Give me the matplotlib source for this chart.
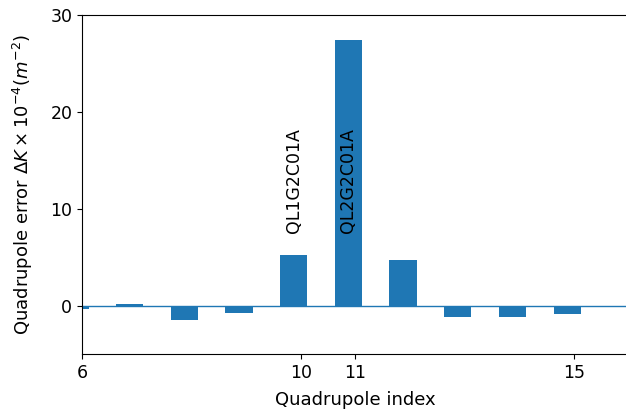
import matplotlib
matplotlib.use("Agg")
import matplotlib.pyplot as plt

# Data
quad_index = [6, 7, 8, 9, 10, 11, 12, 13, 14, 15]
error_vals = [-0.4, 0.2, -1.5, -0.75, 5.2, 27.4, 4.7, -1.2, -1.2, -0.87]
label_index = [10, 11]
label_names = ["QL1G2C01A", "QL2G2C01A"]
label_y = 7.5
xtick_vals = [6, 10, 11, 15]
ytick_vals = [0, 10, 20, 30]

offset = -0.13
width = 0.5

fig = plt.figure(figsize=(6.26, 4.09), dpi=100)
ax = fig.add_axes([82 / 626, 1 - 354 / 409, (629 - 82) / 626, (354 - 15) / 409])

ax.bar([q + offset for q in quad_index], error_vals, width=width, color="C0")
ax.axhline(0, color="C0", lw=1)
for q, name in zip(label_index, label_names):
    ax.text(q + offset, label_y, name, rotation=90, ha="center", va="bottom", fontsize=12.5)

ax.set_xlim(6, 16)
ax.set_ylim(-5, 30)
ax.set_xticks(xtick_vals)
ax.set_yticks(ytick_vals)
ax.tick_params(labelsize=12.5)
ax.spines["right"].set_visible(False)
ax.set_xlabel("Quadrupole index", fontsize=13, labelpad=6.5)
ax.set_ylabel(r"Quadrupole error $\Delta K \times 10^{-4} (m^{-2})$", fontsize=13, labelpad=11)

fig.savefig("out.png", dpi=100)
